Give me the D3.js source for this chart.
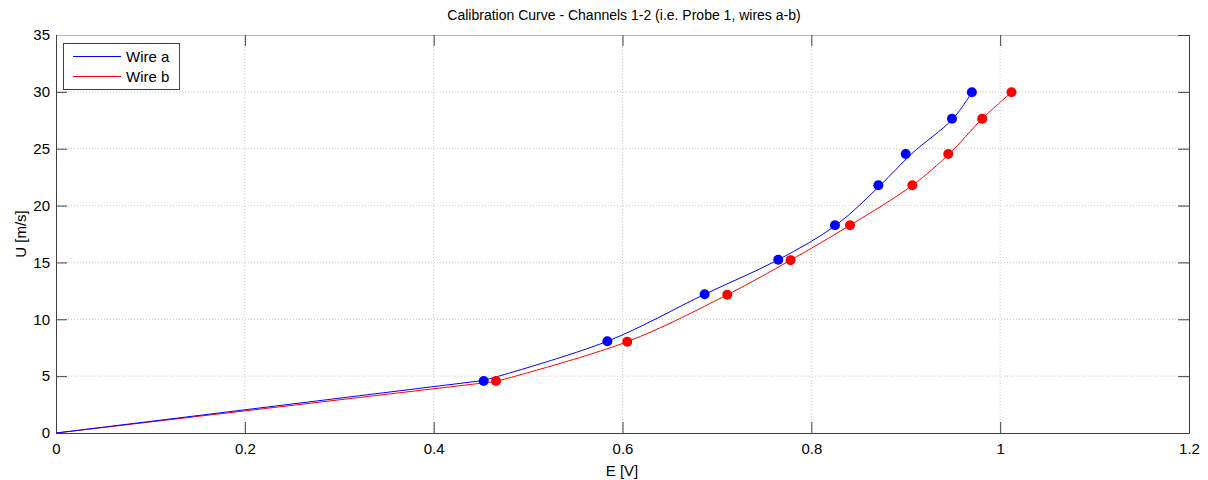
<!DOCTYPE html>
<html>
<head>
<meta charset="utf-8">
<script src="https://cdn.jsdelivr.net/npm/d3@7"></script>
<style>
  body { margin: 0; background: #fff; }
  text { font-family: "Liberation Sans", Arial, sans-serif; fill: #000; }
</style>
</head>
<body>
<div id="chart"></div>
<script>
// Calibration points
var wireA_E = [0.453, 0.584, 0.687, 0.765, 0.825, 0.871, 0.900, 0.949, 0.970];
var wireA_U = [4.57, 8.07, 12.2, 15.24, 18.27, 21.78, 24.54, 27.64, 29.96];
var wireB_E = [0.466, 0.605, 0.711, 0.778, 0.841, 0.907, 0.945, 0.981, 1.012];
var wireB_U = [4.57, 8.03, 12.16, 15.2, 18.27, 21.78, 24.54, 27.64, 29.96];

// Fitted curve vertices (the line starts at the origin)
var fitA_E = [0, 0.453, 0.584, 0.687, 0.765, 0.826, 0.873, 0.906, 0.950, 0.970];
var fitA_U = [0, 4.62, 8.07, 12.2, 15.24, 18.27, 21.78, 24.54, 27.64, 29.96];
var fitB_E = [0, 0.466, 0.605, 0.711, 0.778, 0.841, 0.907, 0.946, 0.981, 1.012];
var fitB_U = [0, 4.53, 8.03, 12.16, 15.2, 18.27, 21.78, 24.54, 27.64, 29.96];

var xTicks = [0, 0.2, 0.4, 0.6, 0.8, 1, 1.2];
var yTicks = [0, 5, 10, 15, 20, 25, 30, 35];

var width = 1208, height = 480;
var plotLeft = 56, plotRight = 1189, plotTop = 35, plotBottom = 433;

var svg = d3.select("#chart").append("svg")
    .attr("width", width)
    .attr("height", height);

var x = d3.scaleLinear().domain([0, 1.2]).range([plotLeft, plotRight]);
var y = d3.scaleLinear().domain([0, 35]).range([plotBottom, plotTop]);

// grid lines
svg.append("g").selectAll("line").data(xTicks.slice(1, -1)).enter().append("line")
    .attr("x1", function (d) { return x(d); }).attr("x2", function (d) { return x(d); })
    .attr("y1", plotTop).attr("y2", plotBottom)
    .attr("stroke", "#c8c8c8").attr("stroke-dasharray", "1,2");
svg.append("g").selectAll("line").data(yTicks.slice(1, -1)).enter().append("line")
    .attr("y1", function (d) { return y(d); }).attr("y2", function (d) { return y(d); })
    .attr("x1", plotLeft).attr("x2", plotRight)
    .attr("stroke", "#c8c8c8").attr("stroke-dasharray", "1,2");

// axes with inward ticks, labels on bottom / left
var axisColor = "#404040";
var bottomAxis = svg.append("g")
    .attr("transform", "translate(0," + plotBottom + ")")
    .call(d3.axisBottom(x).tickValues(xTicks).tickSizeInner(-11).tickSizeOuter(0).tickPadding(10)
        .tickFormat(function (d) { return d3.format("")(d); }));
var leftAxis = svg.append("g")
    .attr("transform", "translate(" + plotLeft + ",0)")
    .call(d3.axisLeft(y).tickValues(yTicks).tickSizeInner(-11).tickSizeOuter(0).tickPadding(6));
var topAxis = svg.append("g")
    .attr("transform", "translate(0," + plotTop + ")")
    .call(d3.axisTop(x).tickValues(xTicks).tickSizeInner(-11).tickSizeOuter(0).tickFormat(""));
var rightAxis = svg.append("g")
    .attr("transform", "translate(" + plotRight + ",0)")
    .call(d3.axisRight(y).tickValues(yTicks).tickSizeInner(-11).tickSizeOuter(0).tickFormat(""));

[bottomAxis, leftAxis, topAxis, rightAxis].forEach(function (g) {
    g.select(".domain").attr("stroke", axisColor);
    g.selectAll(".tick line").attr("stroke", axisColor);
    g.selectAll(".tick text").style("font-size", "15px")
        .style("font-family", "'Liberation Sans', Arial, sans-serif").attr("fill", "#000");
});
topAxis.select(".domain").attr("stroke", "#bdbdbd");

// fitted lines: straight from the origin, smooth through the measured range
var straight = d3.line()
    .x(function (d) { return x(d[0]); })
    .y(function (d) { return y(d[1]); });
var smooth = d3.line()
    .curve(d3.curveCatmullRom.alpha(0.5))
    .x(function (d) { return x(d[0]); })
    .y(function (d) { return y(d[1]); });

function drawFit(pts, color) {
    svg.append("path").datum(pts.slice(0, 2))
        .attr("d", straight).attr("fill", "none").attr("stroke", color).attr("stroke-width", 1);
    svg.append("path").datum(pts.slice(1))
        .attr("d", smooth).attr("fill", "none").attr("stroke", color).attr("stroke-width", 1);
}
drawFit(d3.zip(fitB_E, fitB_U), "#ff0000");
drawFit(d3.zip(fitA_E, fitA_U), "#0000ff");

// measured points
svg.append("g").selectAll("circle").data(d3.zip(wireB_E, wireB_U)).enter().append("circle")
    .attr("cx", function (d) { return x(d[0]); })
    .attr("cy", function (d) { return y(d[1]); })
    .attr("r", 5).attr("fill", "#ff0000");
svg.append("g").selectAll("circle").data(d3.zip(wireA_E, wireA_U)).enter().append("circle")
    .attr("cx", function (d) { return x(d[0]); })
    .attr("cy", function (d) { return y(d[1]); })
    .attr("r", 5).attr("fill", "#0000ff");

// legend
var legend = svg.append("g");
legend.append("rect")
    .attr("x", 63.5).attr("y", 43.5).attr("width", 116).attr("height", 46)
    .attr("fill", "#fff").attr("stroke", "#404040");
var legendItems = [["Wire a", "#0000ff"], ["Wire b", "#ff0000"]];
legendItems.forEach(function (item, i) {
    var ly = 56.5 + i * 20;
    legend.append("line")
        .attr("x1", 73).attr("x2", 121).attr("y1", ly).attr("y2", ly)
        .attr("stroke", item[1]).attr("stroke-width", 1);
    legend.append("text")
        .attr("x", 126).attr("y", ly + 5.5)
        .style("font-size", "15px")
        .text(item[0]);
});

// title and axis labels
svg.append("text")
    .attr("x", 624).attr("y", 20)
    .attr("text-anchor", "middle")
    .style("font-size", "14px")
    .text("Calibration Curve - Channels 1-2 (i.e. Probe 1, wires a-b)");

svg.append("text")
    .attr("x", 622).attr("y", 476)
    .attr("text-anchor", "middle")
    .style("font-size", "15px")
    .text("E [V]");

svg.append("text")
    .attr("transform", "translate(26,234) rotate(-90)")
    .attr("text-anchor", "middle")
    .style("font-size", "15px")
    .text("U [m/s]");
</script>
</body>
</html>
